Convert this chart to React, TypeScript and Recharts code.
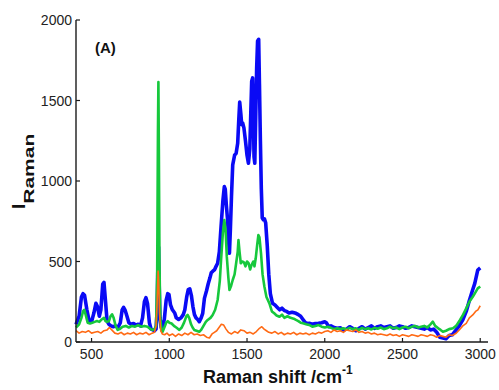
import React from "react";
import { LineChart, Line, XAxis, YAxis } from "recharts";

// Raman spectra: [shift (cm^-1), intensity]
const blueSpectrum: [number, number][] = [
  [400, 110], [420, 160], [435, 280], [445, 300], [455, 290], [470, 200], [485, 130], [500, 125],
  [515, 180], [528, 240], [538, 220], [550, 160], [560, 200], [572, 360], [580, 370], [590, 250],
  [600, 130], [612, 110], [625, 100], [640, 95], [655, 100], [670, 90], [685, 120], [697, 200],
  [706, 215], [715, 200], [728, 160], [740, 120], [755, 110], [770, 115], [785, 105], [800, 110],
  [815, 100], [828, 150], [840, 250], [850, 275], [860, 240], [872, 120], [883, 80], [895, 75],
  [905, 70], [915, 80], [922, 200], [928, 560], [931, 590], [934, 400], [940, 150], [948, 90],
  [957, 95], [968, 140], [980, 260], [990, 300], [998, 295], [1008, 230], [1020, 200], [1035, 180],
  [1045, 150], [1060, 140], [1076, 150], [1090, 170], [1100, 200], [1112, 280], [1122, 325], [1132, 330],
  [1142, 290], [1152, 220], [1162, 170], [1172, 150], [1183, 140], [1193, 126], [1205, 150], [1215, 178],
  [1226, 271], [1240, 320], [1250, 360], [1262, 400], [1270, 430], [1280, 440], [1292, 450], [1301, 470],
  [1311, 489], [1322, 560], [1333, 716], [1345, 880], [1354, 965], [1360, 950], [1367, 850], [1375, 758],
  [1380, 650], [1387, 551], [1393, 700], [1400, 902], [1408, 1100], [1414, 1130], [1420, 1160], [1430, 1172],
  [1440, 1234], [1447, 1380], [1453, 1490], [1460, 1420], [1466, 1350], [1472, 1360], [1480, 1330], [1490, 1250],
  [1500, 1160], [1509, 1110], [1518, 1200], [1525, 1450], [1530, 1620], [1536, 1640], [1541, 1400], [1545, 1150],
  [1550, 1110], [1556, 1400], [1562, 1700], [1568, 1870], [1575, 1880], [1580, 1600], [1586, 1250], [1592, 950],
  [1598, 770], [1605, 760], [1612, 765], [1620, 740], [1630, 600], [1640, 420], [1650, 300], [1664, 240],
  [1680, 230], [1695, 215], [1710, 200], [1725, 210], [1740, 195], [1755, 190], [1770, 180], [1790, 185],
  [1815, 178], [1830, 170], [1845, 160], [1860, 140], [1875, 120], [1890, 115], [1900, 116], [1920, 110],
  [1940, 115], [1960, 116], [1980, 120], [2000, 126], [2010, 120], [2025, 95], [2040, 100], [2060, 90],
  [2080, 85], [2100, 88], [2120, 75], [2140, 80], [2160, 95], [2180, 85], [2200, 70], [2220, 85],
  [2240, 95], [2260, 80], [2280, 90], [2300, 100], [2320, 85], [2340, 95], [2360, 100], [2380, 90],
  [2400, 95], [2420, 100], [2440, 85], [2460, 90], [2480, 100], [2500, 95], [2520, 85], [2540, 90],
  [2560, 100], [2580, 95], [2600, 90], [2620, 85], [2640, 80], [2660, 90], [2680, 75], [2700, 80],
  [2720, 60], [2740, 30], [2760, 25], [2780, 20], [2800, 40], [2820, 45], [2845, 75], [2865, 100],
  [2888, 137], [2910, 190], [2931, 261], [2950, 320], [2965, 364], [2984, 447], [3000, 460],
];

const greenSpectrum: [number, number][] = [
  [400, 90], [420, 110], [435, 150], [445, 190], [453, 200], [462, 170], [475, 120], [490, 115],
  [505, 120], [520, 125], [535, 130], [550, 125], [565, 140], [580, 150], [590, 130], [600, 125],
  [612, 130], [622, 160], [632, 172], [642, 150], [655, 100], [668, 75], [680, 80], [700, 95],
  [720, 100], [740, 90], [760, 100], [780, 95], [800, 105], [820, 95], [840, 100], [860, 95],
  [880, 80], [893, 75], [905, 80], [915, 100], [922, 400], [927, 1300], [930, 1615], [933, 1200],
  [937, 500], [942, 150], [950, 70], [957, 64], [968, 90], [980, 120], [990, 130], [1000, 120],
  [1015, 115], [1030, 100], [1045, 90], [1065, 75], [1080, 90], [1095, 120], [1110, 160], [1118, 168],
  [1128, 150], [1140, 110], [1150, 90], [1161, 75], [1175, 70], [1193, 64], [1205, 75], [1220, 100],
  [1235, 125], [1247, 137], [1265, 150], [1279, 168], [1295, 200], [1311, 261], [1325, 380], [1333, 509],
  [1345, 680], [1354, 758], [1362, 700], [1370, 530], [1380, 400], [1387, 323], [1398, 350], [1408, 385],
  [1420, 420], [1430, 489], [1440, 560], [1445, 633], [1452, 560], [1460, 489], [1470, 500], [1480, 495],
  [1490, 470], [1500, 500], [1510, 490], [1520, 450], [1530, 480], [1540, 500], [1548, 470], [1556, 520],
  [1565, 600], [1573, 664], [1580, 650], [1590, 551], [1600, 420], [1612, 343], [1625, 280], [1644, 240],
  [1660, 190], [1675, 178], [1690, 165], [1709, 157], [1725, 170], [1740, 150], [1760, 160], [1780, 150],
  [1800, 145], [1815, 137], [1830, 130], [1845, 120], [1860, 116], [1880, 110], [1900, 106], [1920, 95],
  [1940, 100], [1960, 105], [1980, 95], [2000, 90], [2020, 95], [2040, 88], [2060, 80], [2080, 85],
  [2100, 80], [2120, 85], [2140, 78], [2160, 88], [2180, 80], [2200, 85], [2220, 75], [2240, 88],
  [2260, 80], [2280, 85], [2300, 78], [2320, 88], [2340, 82], [2360, 90], [2380, 80], [2400, 85],
  [2420, 95], [2440, 85], [2460, 90], [2480, 80], [2500, 90], [2520, 95], [2540, 85], [2560, 95],
  [2580, 100], [2600, 90], [2620, 95], [2640, 100], [2660, 90], [2680, 110], [2695, 126], [2710, 100],
  [2730, 85], [2745, 75], [2760, 64], [2780, 70], [2800, 80], [2825, 85], [2845, 100], [2870, 137],
  [2890, 170], [2910, 209], [2930, 250], [2952, 281], [2970, 310], [2984, 333], [3000, 345],
];

const orangeSpectrum: [number, number][] = [
  [400, 70], [420, 55], [440, 65], [460, 60], [480, 70], [500, 55], [520, 60], [540, 65],
  [560, 55], [580, 70], [600, 75], [615, 90], [630, 75], [650, 55], [670, 50], [690, 60],
  [710, 45], [730, 55], [750, 50], [770, 60], [790, 45], [810, 55], [830, 50], [850, 60],
  [870, 45], [890, 55], [905, 60], [915, 100], [922, 250], [928, 440], [932, 380], [937, 180],
  [945, 70], [955, 50], [970, 45], [985, 55], [1000, 40], [1020, 50], [1040, 35], [1060, 50],
  [1080, 40], [1100, 55], [1120, 45], [1140, 60], [1160, 45], [1180, 50], [1200, 40], [1220, 45],
  [1240, 30], [1258, 25], [1275, 50], [1290, 60], [1305, 70], [1320, 90], [1335, 110], [1350, 105],
  [1365, 80], [1380, 60], [1400, 50], [1420, 65], [1440, 55], [1460, 75], [1480, 70], [1500, 55],
  [1520, 60], [1540, 50], [1560, 65], [1580, 85], [1595, 95], [1610, 80], [1625, 70], [1640, 60],
  [1660, 55], [1680, 65], [1700, 50], [1720, 60], [1740, 45], [1760, 55], [1780, 50], [1800, 60],
  [1820, 45], [1840, 55], [1860, 50], [1880, 55], [1900, 45], [1920, 55], [1940, 50], [1960, 60],
  [1980, 55], [2000, 65], [2020, 70], [2040, 60], [2060, 75], [2080, 65], [2100, 70], [2120, 60],
  [2140, 75], [2160, 70], [2180, 65], [2200, 75], [2220, 60], [2240, 65], [2260, 55], [2280, 60],
  [2300, 50], [2320, 55], [2340, 45], [2360, 50], [2380, 45], [2400, 40], [2420, 50], [2440, 40],
  [2460, 45], [2480, 35], [2500, 45], [2520, 40], [2540, 35], [2560, 45], [2580, 40], [2600, 35],
  [2620, 45], [2640, 40], [2660, 35], [2680, 45], [2700, 40], [2720, 30], [2740, 40], [2760, 35],
  [2780, 30], [2800, 45], [2820, 40], [2845, 54], [2865, 75], [2888, 100], [2910, 116], [2930, 150],
  [2952, 168], [2970, 190], [2985, 200], [3000, 225],
];

const xTicks = [500, 1000, 1500, 2000, 2500, 3000];
const yTicks = [0, 500, 1000, 1500, 2000];

const toRows = (pts: [number, number][]) => pts.map(([shift, intensity]) => ({ shift, intensity }));

const FONT = "'Liberation Sans', Arial, Helvetica, sans-serif";
const AXIS_COLOR = "#1a1a1a";

// Bottom-axis tick: short inward mark plus the label underneath
const XTick = (props: any) => {
  const { x, y, payload } = props;
  return (
    <g>
      <line x1={x} y1={y} x2={x} y2={y - 4} stroke={AXIS_COLOR} strokeWidth={1.2} />
      <text x={x} y={y + 17} textAnchor="middle" fontFamily={FONT} fontSize={14} fill="#222">
        {payload.value}
      </text>
    </g>
  );
};

// Left-axis tick: short inward mark plus the right-aligned label
const YTick = (props: any) => {
  const { x, y, payload } = props;
  return (
    <g>
      <line x1={x} y1={y} x2={x + 4} y2={y} stroke={AXIS_COLOR} strokeWidth={1.2} />
      <text x={x - 4} y={y + 5} textAnchor="end" fontFamily={FONT} fontSize={14} fill="#222">
        {payload.value}
      </text>
    </g>
  );
};

export default function App() {
  return (
    <div style={{ position: "absolute", left: 0, top: 0, width: 499, height: 390, background: "#fff" }}>
      <LineChart
        width={499}
        height={390}
        margin={{ top: 20, right: 11, bottom: 0, left: 0 }}
      >
        <XAxis
          dataKey="shift"
          type="number"
          domain={[400, 3050]}
          ticks={xTicks}
          height={48}
          tickSize={0}
          tickMargin={0}
          tickLine={false}
          axisLine={{ stroke: AXIS_COLOR, strokeWidth: 1.4 }}
          tick={<XTick />}
          allowDuplicatedCategory={false}
        />
        <YAxis
          type="number"
          domain={[0, 2000]}
          ticks={yTicks}
          width={76}
          tickSize={0}
          tickMargin={0}
          tickLine={false}
          axisLine={{ stroke: AXIS_COLOR, strokeWidth: 1.4 }}
          tick={<YTick />}
        />
        <Line
          data={toRows(blueSpectrum)}
          dataKey="intensity"
          type="linear"
          stroke="#0a0af5"
          strokeWidth={3.6}
          dot={false}
          strokeLinejoin="round"
          isAnimationActive={false}
        />
        <Line
          data={toRows(greenSpectrum)}
          dataKey="intensity"
          type="linear"
          stroke="#16c83c"
          strokeWidth={2.6}
          dot={false}
          strokeLinejoin="round"
          isAnimationActive={false}
        />
        <Line
          data={toRows(orangeSpectrum)}
          dataKey="intensity"
          type="linear"
          stroke="#ff6a14"
          strokeWidth={1.6}
          dot={false}
          strokeLinejoin="round"
          isAnimationActive={false}
        />
      </LineChart>
      <svg
        width={499}
        height={390}
        style={{ position: "absolute", left: 0, top: 0, pointerEvents: "none" }}
      >
        <text x={95} y={53} fontFamily={FONT} fontSize={15} fontWeight="bold" fill="#111">
          (A)
        </text>
        <text x={203} y={383} fontFamily={FONT} fontSize={18} fontWeight="bold" fill="#111">
          Raman shift /cm
          <tspan fontSize={12} dy={-9}>-1</tspan>
        </text>
        <text
          transform="translate(25, 209) rotate(-90)"
          fontFamily={FONT}
          fontWeight="bold"
          fill="#111"
        >
          <tspan fontSize={19}>I</tspan>
          <tspan fontSize={15} dy={9} textLength={70} lengthAdjust="spacingAndGlyphs">Raman</tspan>
        </text>
      </svg>
    </div>
  );
}
